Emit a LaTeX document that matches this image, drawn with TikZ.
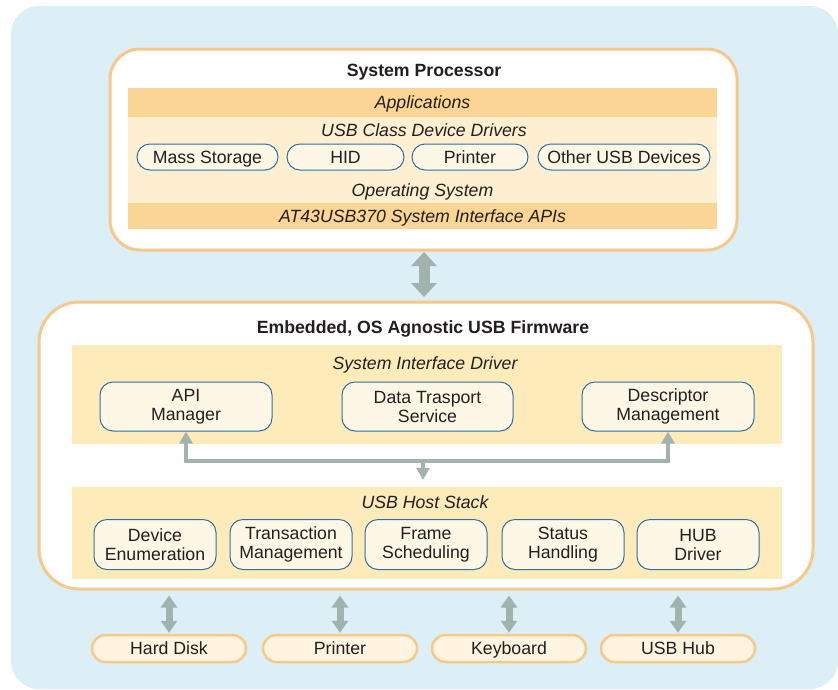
\documentclass[tikz,border=0pt]{standalone}
\usepackage{fontspec}
\setmainfont{Liberation Sans}
\usetikzlibrary{arrows.meta}

\definecolor{skybg}{HTML}{DCEFF7}
\definecolor{frameor}{HTML}{F6C88A}
\definecolor{banddark}{HTML}{FAD596}
\definecolor{bandlight}{HTML}{FDEFD0}
\definecolor{bandsoft}{HTML}{FEEBBA}
\definecolor{cellfill}{HTML}{FEF7E6}
\definecolor{cellline}{HTML}{2E6FA5}
\definecolor{linkgray}{HTML}{A2B3AD}
\definecolor{inktext}{HTML}{231F20}
\definecolor{devfill}{HTML}{FEF4DF}

\tikzset{
  txtbase/.style={font=\fontsize{17.7}{19}\selectfont, text=inktext, inner sep=0pt},
  txt/.style={txtbase, text height=14.5pt, text depth=2pt},
  ttl/.style={txt, font=\fontsize{17.7}{19}\selectfont\bfseries},
  itl/.style={txt, font=\fontsize{17.7}{19}\selectfont\itshape},
  frame/.style={draw=frameor, line width=3pt, fill=white, rounded corners=#1},
  band/.style={fill=#1, inner sep=0pt, draw=none},
  pill/.style={txt, draw=cellline, line width=1pt, fill=cellfill,
    rounded corners=13pt, minimum height=26pt},
  cell/.style={txtbase, draw=cellline, line width=1pt, fill=cellfill,
    rounded corners=13pt, align=center},
  devpill/.style={txt, draw=frameor, line width=2.5pt, fill=devfill,
    rounded corners=13.5pt, minimum width=154pt, minimum height=27pt},
  link/.style={draw=linkgray, line width=4pt,
    -{Triangle[width=13pt,length=12pt]}},
  biglink/.style={draw=linkgray, line width=11pt,
    {Triangle[width=25pt,length=14pt]}-{Triangle[width=25pt,length=14pt]}},
  devlink/.style={draw=linkgray, line width=7pt,
    {Triangle[width=16pt,length=12pt]}-{Triangle[width=16pt,length=12pt]}},
}

\begin{document}
\begin{tikzpicture}[x=1pt, y=-1pt]
  \useasboundingbox (0,0) rectangle (838,689);

  % backdrop
  \fill[skybg, rounded corners=28pt] (11,6) rectangle (838,689);

  % ---------- system processor ----------
  \node[frame=30pt, minimum width=627pt, minimum height=201pt] (sp) at (423.5,149.5) {};
  \node[ttl] (sptitle) at (424,70) {System Processor};

  \node[band=banddark, minimum width=589pt, minimum height=29pt] (apps) at (422.5,102.5) {};
  \node[itl] at (apps) {Applications};
  \node[band=bandlight, minimum width=589pt, minimum height=60pt] (cls) at (422.5,147) {};
  \node[itl] (clstitle) at (424,130) {USB Class Device Drivers};
  \node[band=bandlight, minimum width=589pt, minimum height=26pt] (os) at (422.5,190) {};
  \node[itl] at (os) {Operating System};
  \node[band=banddark, minimum width=589pt, minimum height=26pt] (api) at (422.5,216) {};
  \node[itl] at (api) {AT43USB370 System Interface APIs};

  \node[pill, minimum width=141pt] (mass)  at (207.5,157) {Mass Storage};
  \node[pill, minimum width=117pt] (hid)   at (345.5,157) {HID};
  \node[pill, minimum width=116pt] (prn)   at (470,157)   {Printer};
  \node[pill, minimum width=172pt] (other) at (624,157)   {Other USB Devices};

  % ---------- embedded firmware ----------
  \node[frame=40pt, minimum width=774pt, minimum height=287pt] (fw) at (426,445.5) {};
  \node[ttl] (fwtitle) at (423,327) {Embedded, OS Agnostic USB Firmware};

  \node[band=bandsoft, minimum width=710pt, minimum height=99pt] (sid) at (427,394.5) {};
  \node[itl] (sidtitle) at (425,363) {System Interface Driver};
  \node[cell, minimum width=172pt, minimum height=49pt] (apimgr) at (186,406.5)   {API\\Manager};
  \node[cell, minimum width=171pt, minimum height=49pt] (dts)    at (427.5,406.5) {Data Trasport\\Service};
  \node[cell, minimum width=172pt, minimum height=49pt] (desc)   at (668,406.5)   {Descriptor\\Management};

  \node[band=bandsoft, minimum width=710pt, minimum height=92pt] (ush) at (427,533) {};
  \node[itl] (ushtitle) at (425,502) {USB Host Stack};
  \node[cell, minimum width=122pt, minimum height=50pt] (enum)  at (155,544.5) {Device\\Enumeration};
  \node[cell, minimum width=122pt, minimum height=50pt] (trans) at (291,544.5) {Transaction\\Management};
  \node[cell, minimum width=122pt, minimum height=50pt] (frame) at (426,544.5) {Frame\\Scheduling};
  \node[cell, minimum width=122pt, minimum height=50pt] (stat)  at (563,544.5) {Status\\Handling};
  \node[cell, minimum width=122pt, minimum height=50pt] (hub)   at (698,544.5) {HUB\\Driver};

  % internal bus between the two layers
  \coordinate (bus) at (423,461);
  \draw[link] (bus) -| (apimgr.south);
  \draw[link] (bus) -| (desc.south);
  \draw[link, shorten >=7pt] (bus) -- (bus |- ush.north);

  % link between processor and firmware
  \coordinate (spout) at (424,250);
  \coordinate (fwin) at (424,302);
  \draw[biglink, shorten <=2pt, shorten >=5pt] (spout) -- (fwin);

  % ---------- attached devices ----------
  \node[devpill] (disk) at (169,648.5) {Hard Disk};
  \node[devpill] (dprn) at (340,648.5) {Printer};
  \node[devpill] (kbd)  at (509,648.5) {Keyboard};
  \node[devpill] (uhub) at (678,648.5) {USB Hub};

  \foreach \d in {disk,dprn,kbd,uhub}
    \draw[devlink, shorten <=5pt, shorten >=1pt] (fw.south -| \d.north) -- (\d.north);
\end{tikzpicture}
\end{document}
